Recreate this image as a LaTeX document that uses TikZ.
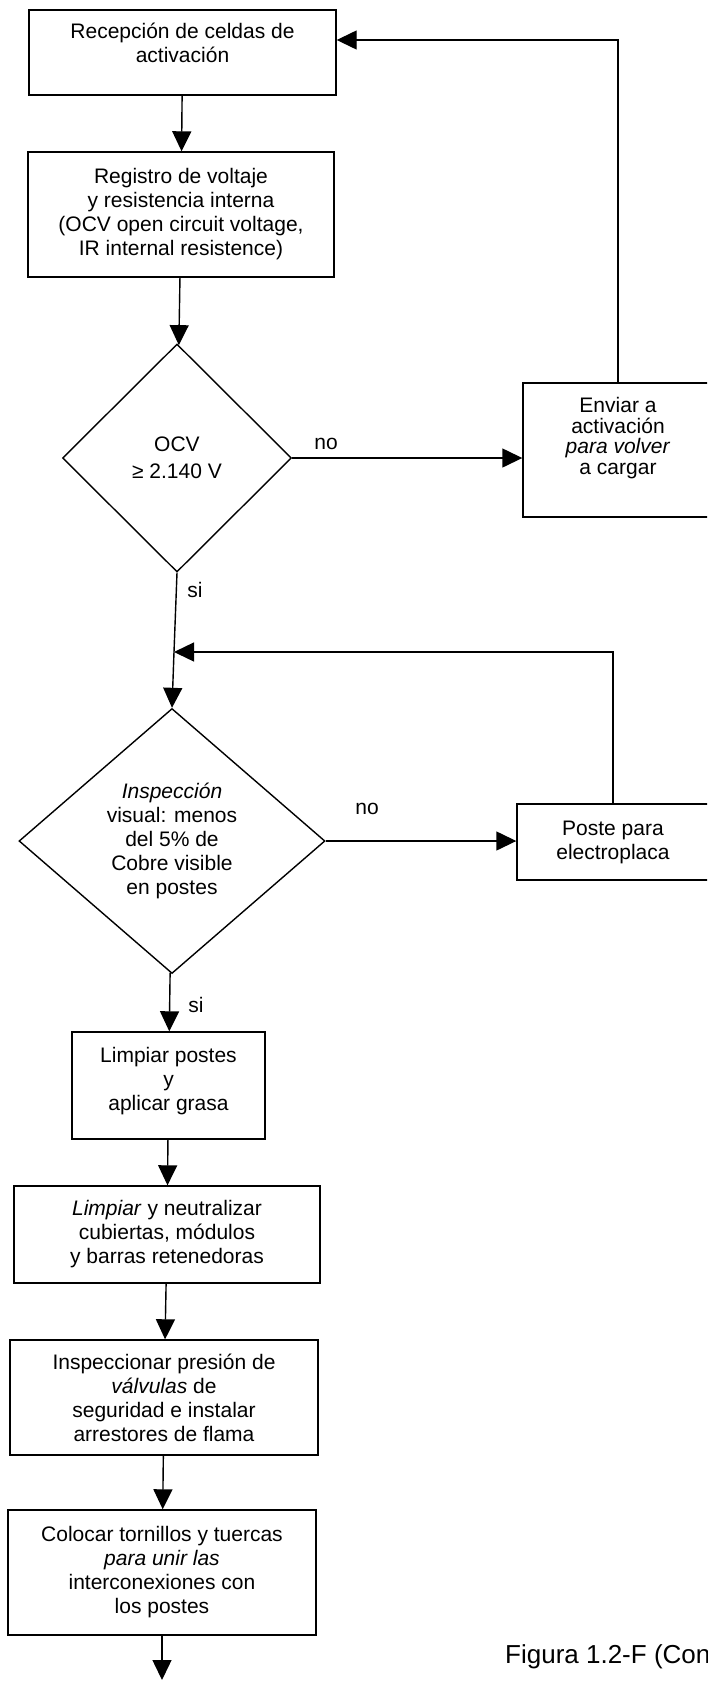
\documentclass[tikz,border=0pt]{standalone}
\usepackage{fontspec}
\setmainfont{Liberation Sans}
\usetikzlibrary{shapes.geometric,arrows.meta}
\tikzset{
	caja/.style={draw, line width=1.4pt, align=center, inner sep=0pt, font=\fontsize{21}{24}\selectfont},
	rombo/.style={draw, diamond, aspect=1, line width=1.4pt, align=center, inner sep=0pt, font=\fontsize{21}{24}\selectfont},
	flecha/.style={line width=1.4pt, -{Triangle[length=20pt,width=19pt]}},
	linea/.style={line width=1.4pt},
	etiqueta/.style={inner sep=0pt, font=\fontsize{21}{24}\selectfont}
}
\begin{document}
\begin{tikzpicture}[x=1pt,y=-1pt]
		\useasboundingbox (0,0) rectangle (707,1689);
		\clip (0,0) rectangle (707,1689);
		\node (recepcion) [caja, minimum width=307pt, minimum height=85pt, text depth=20pt] at (182.5,52.5) {Recepción de celdas de\\activación};
		\node (registro) [caja, minimum width=306pt, minimum height=125pt] at (181,214.5) {Registro de voltaje\\y resistencia interna\\(OCV open circuit voltage,\\IR internal resistence)};
		\node (ocv) [rombo, minimum width=229pt, minimum height=228pt, font=\fontsize{21}{27}\selectfont] at (177,458) {OCV\\≥ 2.140 V};
		\node (enviar) [caja, minimum width=190pt, minimum height=134pt, text depth=28pt, font=\fontsize{21}{20.5}\selectfont] at (618,450) {Enviar a\\activación\\\textit{para volver}\\a cargar};
		\node (inspeccion) [rombo, minimum width=306pt, minimum height=265pt] at (172,841) {\textit{Inspección}\\visual: menos\\del 5\% de\\Cobre visible\\en postes};
		\node (poste) [caja, minimum width=192pt, minimum height=76pt] at (613,842) {Poste para\\electroplaca};
		\node (limpiar) [caja, minimum width=193pt, minimum height=107pt, text depth=13pt] at (168.5,1085.5) {Limpiar postes\\y\\aplicar grasa};
		\node (neutralizar) [caja, minimum width=306pt, minimum height=97pt] at (167,1234.5) {\textit{Limpiar} y neutralizar\\cubiertas, módulos\\y barras retenedoras};
		\node (valvulas) [caja, minimum width=308pt, minimum height=115pt] at (164,1397.5) {Inspeccionar presión de\\\textit{válvulas} de\\seguridad e instalar\\arrestores de flama};
		\node (tornillos) [caja, minimum width=308pt, minimum height=125pt] at (162,1572.5) {Colocar tornillos y tuercas\\\textit{para unir las}\\interconexiones con\\los postes};
		\coordinate (union) at (174,652);
		\coordinate (fin) at (162,1680);
		\node (no1) [etiqueta] at (326,444) {no};
		\node (si1) [etiqueta] at (195,590) {si};
		\node (no2) [etiqueta] at (367,809) {no};
		\node (si2) [etiqueta] at (196,1005) {si};
		\node (figura) [inner sep=0pt, anchor=base west, font=\fontsize{26}{30}\selectfont] at (505,1663) {Figura 1.2-F (Con};
		\draw [flecha] (recepcion) -- (registro);
		\draw [flecha] (registro) -- (ocv);
		\draw [flecha] (ocv.east) -- (ocv.east -| enviar.west);
		\draw [flecha] (enviar.north) |- ([yshift=12.5pt]recepcion.east);
		\draw [linea] (ocv.south) -- (union);
		\draw [flecha] (union) -- (inspeccion.north);
		\draw [flecha] (inspeccion.east) -- (inspeccion.east -| poste.west);
		\draw [flecha] (poste.north) |- (union);
		\draw [flecha] (inspeccion) -- (limpiar);
		\draw [flecha] (limpiar) -- (neutralizar);
		\draw [flecha] (neutralizar) -- (valvulas);
		\draw [flecha] (valvulas) -- (tornillos);
		\draw [flecha] (tornillos) -- (fin);
	\end{tikzpicture}
\end{document}
